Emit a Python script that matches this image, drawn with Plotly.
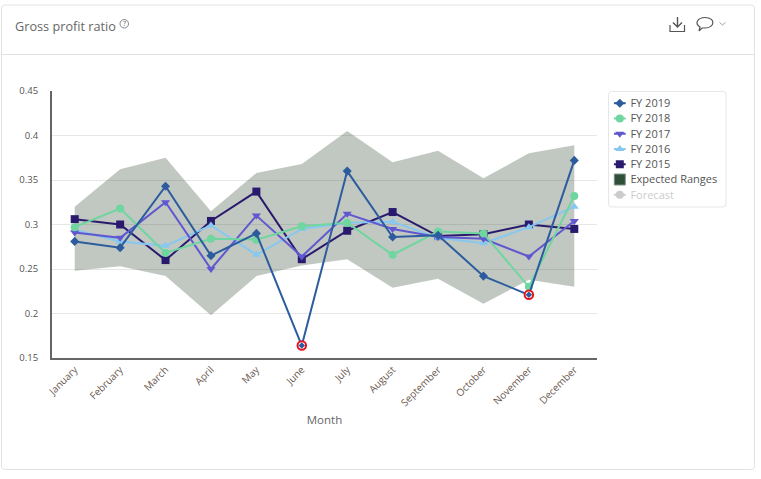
import plotly.graph_objects as go

months = ["January","February","March","April","May","June","July","August","September","October","November","December"]
fy2019 = [.281,.274,.343,.265,.290,.164,.360,.286,.288,.242,.221,.372]
fy2018 = [.297,.318,.268,.284,.283,.298,.302,.266,.292,.290,.230,.332]
fy2017 = [.291,.285,.325,.250,.310,.264,.312,.295,.286,.284,.264,.304]
fy2016 = [.294,.281,.276,.299,.266,.295,.302,.303,.285,.279,.297,.320]
fy2015 = [.306,.300,.260,.304,.337,.261,.293,.314,.287,.289,.300,.295]
upper = [.320,.362,.375,.315,.358,.368,.405,.370,.383,.352,.380,.389]
lower = [.248,.253,.242,.198,.242,.254,.261,.229,.239,.211,.238,.230]
outlier_months = ["June","November"]
yticks = [.15,.2,.25,.3,.35,.4,.45]
yticklabels = ["0.15","0.2","0.25","0.3","0.35","0.4","0.45"]
legend_names = ["FY 2019","FY 2018","FY 2017","FY 2016","FY 2015","Expected Ranges","Forecast"]

W,H = 761,479
FONT = "Open Sans"

def px(x): return x/W
def py(y): return 1-y/H
def P(cmds):
    out=[]
    for c in cmds:
        if isinstance(c,str): out.append(c)
        else: out.append(f"{px(c[0]):.5f},{py(c[1]):.5f}")
    return " ".join(out)
def rrect(x0,y0,x1,y1,r):
    return P(["M",(x0+r,y0),"L",(x1-r,y0),"Q",(x1,y0),(x1,y0+r),"L",(x1,y1-r),"Q",(x1,y1),(x1-r,y1),
              "L",(x0+r,y1),"Q",(x0,y1),(x0,y1-r),"L",(x0,y0+r),"Q",(x0,y0),(x0+r,y0),"Z"])

fig = go.Figure()
fig.add_trace(go.Scatter(x=months,y=upper,mode="lines",line=dict(width=0),showlegend=False,hoverinfo="skip"))
fig.add_trace(go.Scatter(x=months,y=lower,mode="lines",line=dict(width=0),fill="tonexty",
                         fillcolor="rgba(62,85,62,0.32)",showlegend=False,hoverinfo="skip"))

series = [("FY 2019",fy2019,"#2c5c9e","diamond",7),
          ("FY 2018",fy2018,"#6fd6a0","circle",8),
          ("FY 2017",fy2017,"#6058d0","triangle-down",8),
          ("FY 2016",fy2016,"#86c8f0","triangle-up",8),
          ("FY 2015",fy2015,"#2a1a6e","square",8)]
for name,vals,col,sym,size in series[::-1]:
    fig.add_trace(go.Scatter(x=months,y=vals,name=name,mode="lines+markers",showlegend=False,
        line=dict(color=col,width=2),marker=dict(symbol=sym,size=size,color=col)))

outlier_vals = [fy2019[months.index(m)] for m in outlier_months]
fig.add_trace(go.Scatter(x=outlier_months,y=outlier_vals,mode="markers",showlegend=False,
    marker=dict(symbol="circle",size=8.5,color="white",line=dict(width=2,color="#e8101c"))))
fig.add_trace(go.Scatter(x=outlier_months,y=outlier_vals,mode="markers",showlegend=False,
    marker=dict(symbol="diamond",size=5,color="#2c5c9e")))

# legend, drawn on its own small hidden axes
key_x, key_half, text_x = 0.10, 0.05, 0.19
for row,(name,vals,col,sym,size) in enumerate(series):
    fig.add_trace(go.Scatter(x=[key_x-key_half,key_x,key_x+key_half],y=[row]*3,xaxis="x2",yaxis="y2",
        mode="lines",line=dict(color=col,width=2),showlegend=False,hoverinfo="skip"))
    fig.add_trace(go.Scatter(x=[key_x],y=[row],xaxis="x2",yaxis="y2",mode="markers",
        marker=dict(symbol=sym,size=size,color=col),showlegend=False,hoverinfo="skip"))
fig.add_trace(go.Scatter(x=[key_x],y=[5],xaxis="x2",yaxis="y2",mode="markers",
    marker=dict(symbol="square",size=11,color="#2f5038",line=dict(color="#7f9186",width=1)),showlegend=False,hoverinfo="skip"))
fig.add_trace(go.Scatter(x=[key_x-key_half,key_x+key_half],y=[6,6],xaxis="x2",yaxis="y2",mode="lines",
    line=dict(color="#cccccc",width=2),showlegend=False,hoverinfo="skip"))
fig.add_trace(go.Scatter(x=[key_x],y=[6],xaxis="x2",yaxis="y2",mode="markers",
    marker=dict(symbol="circle",size=8,color="#cccccc"),showlegend=False,hoverinfo="skip"))
fig.add_trace(go.Scatter(x=[text_x]*7,y=[r+0.07 for r in range(7)],xaxis="x2",yaxis="y2",mode="text",
    text=legend_names,textposition="middle right",cliponaxis=False,showlegend=False,hoverinfo="skip",
    textfont=dict(family=FONT,size=11,color=["#555555"]*6+["#cccccc"])))

LINE = dict(xref="paper",yref="paper")
shapes = [
    dict(type="path",path=rrect(1.5,5,754.5,469.5,4),line=dict(color="#e2e2e2",width=1),layer="below",**LINE),
    dict(type="line",x0=px(2),x1=px(754),y0=py(54.5),y1=py(54.5),line=dict(color="#e2e2e2",width=1),**LINE),
    dict(type="path",path=P(["M",(670,25),"L",(670,31.5),"L",(684.5,31.5),"L",(684.5,25)]),
         line=dict(color="#555555",width=1.2),**LINE),
    dict(type="path",path=P(["M",(677.5,17),"L",(677.5,27),"M",(673,22.5),"L",(677.5,27),"L",(682,22.5)]),
         line=dict(color="#555555",width=1.4),**LINE),
    dict(type="path",path=P(["M",(699,31),"L",(700,27),"C",(694,23),(698,17.5),(705,17.5),
                             "C",(716,17.5),(715,28),(705,28),"Q",(703,28),(702,28),"L",(699,31)]),
         line=dict(color="#555555",width=1.2),**LINE),
    dict(type="path",path=P(["M",(719.5,22.5),"L",(722.5,25),"L",(725.5,22.5)]),
         line=dict(color="#888888",width=0.8),**LINE),
    dict(type="circle",x0=px(120),x1=px(128.5),y0=py(19.5),y1=py(28),line=dict(color="#666666",width=0.8),**LINE),
    dict(type="path",path=rrect(608.5,91.5,726,207,3),line=dict(color="#e6e6e6",width=1),**LINE),
]
annotations = [
    dict(text="Gross profit ratio",xref="paper",yref="paper",x=px(13),y=py(25.5),xanchor="left",yanchor="middle",
         showarrow=False,font=dict(family=FONT,size=12.7,color="#666666")),
    dict(text="?",xref="paper",yref="paper",x=px(124.2),y=py(23.8),xanchor="center",yanchor="middle",
         showarrow=False,font=dict(family=FONT,size=7,color="#666666")),
]
fig.update_layout(
    width=W,height=H,autosize=False,
    margin=dict(l=0,r=0,t=0,b=0),
    paper_bgcolor="white",plot_bgcolor="white",
    font=dict(family=FONT,color="#555555"),
    shapes=shapes,annotations=annotations,hovermode=False,showlegend=False,
    xaxis=dict(type="category",categoryorder="array",categoryarray=months,range=[-0.5,11.5],
        domain=[52/W,597/W],anchor="y",
        tickangle=-45,showgrid=False,showline=True,linecolor="#666666",linewidth=2,ticks="",
        tickfont=dict(family=FONT,size=10,color="#6b5a50"),
        title=dict(text="Month",font=dict(family=FONT,size=11.5,color="#666666"),standoff=8),automargin=False),
    yaxis=dict(range=[.15,.45],domain=[1-358/H,1-91/H],anchor="x",tickmode="array",tickvals=yticks,ticktext=yticklabels,
        showgrid=True,gridcolor="#e6e6e6",gridwidth=1,zeroline=False,showline=True,
        linecolor="#666666",linewidth=2,ticks="",ticklabelstandoff=10,
        tickfont=dict(family=FONT,size=9.5,color="#555555"),automargin=False),
    xaxis2=dict(domain=[608/W,726/W],range=[0,1],anchor="y2",visible=False,fixedrange=True),
    yaxis2=dict(domain=[1-207/H,1-91/H],range=[6.8,-0.8],anchor="x2",visible=False,fixedrange=True),
)
fig.write_html("out.html",config=dict(displayModeBar=False),
               post_script="document.body.style.margin='0';document.documentElement.style.overflow='hidden';")
